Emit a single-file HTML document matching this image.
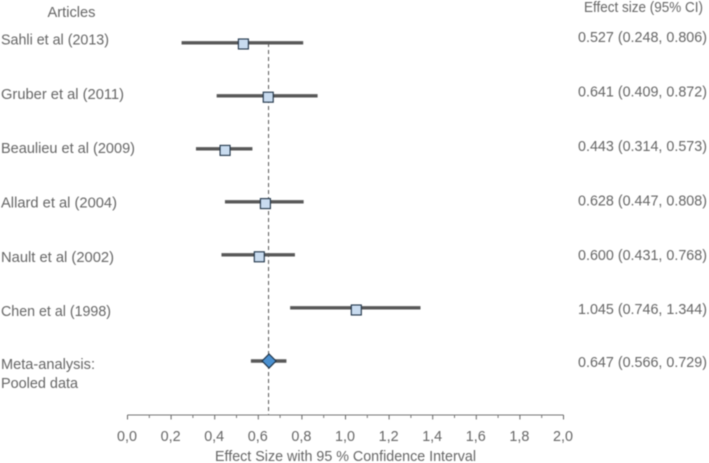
<!DOCTYPE html>
<html>
<head>
<meta charset="utf-8">
<style>
html,body{margin:0;padding:0;background:#fff;width:709px;height:463px;overflow:hidden}
svg{display:block;filter:blur(0.45px)}
text{font-family:"Liberation Sans",sans-serif;font-size:14.5px;fill:#666}
</style>
</head>
<body>
<svg id="chart" width="709" height="463" viewBox="0 0 709 463" xmlns="http://www.w3.org/2000/svg"></svg>
<script>
const studies = ["Sahli et al (2013)", "Gruber et al (2011)", "Beaulieu et al (2009)", "Allard et al (2004)", "Nault et al (2002)", "Chen et al (1998)"];
const effects = [0.527, 0.641, 0.443, 0.628, 0.600, 1.045];
const lowers = [0.248, 0.409, 0.314, 0.447, 0.431, 0.746];
const uppers = [0.806, 0.872, 0.573, 0.808, 0.768, 1.344];
const pooledEffect = [0.647];
const pooledLower = [0.566];
const pooledUpper = [0.729];
const tickLabels = ["0,0", "0,2", "0,4", "0,6", "0,8", "1,0", "1,2", "1,4", "1,6", "1,8", "2,0"];
const tickValues = [0, 0.2, 0.4, 0.6, 0.8, 1.0, 1.2, 1.4, 1.6, 1.8, 2.0];
const minorTickValues = [0.1, 0.3, 0.5, 0.7, 0.9, 1.1, 1.3, 1.5, 1.7, 1.9];

const svg = document.getElementById('chart');
const NS = 'http://www.w3.org/2000/svg';
const xScale = v => 127.5 + v * 218;
const barY = i => 42.8 + i * 53;
const boxY = i => 44 + i * 53.2;
const labelY = i => 44.6 + i * 54.3;
const valueY = i => 42.2 + i * 54.4;
const axisY = 415;
const pooledY = 361;

function mk(tag, attrs, parent) {
  const el = document.createElementNS(NS, tag);
  for (const k in attrs) el.setAttribute(k, attrs[k]);
  (parent || svg).appendChild(el);
  return el;
}
function txt(content, x, y, len, anchor) {
  const el = mk('text', {x: x, y: y, 'text-anchor': anchor || 'start'});
  el.textContent = content;
  if (len) {
    el.setAttribute('textLength', len);
    el.setAttribute('lengthAdjust', 'spacingAndGlyphs');
  }
  return el;
}
function fmt(e, l, u) {
  return e.toFixed(3) + ' (' + l.toFixed(3) + ', ' + u.toFixed(3) + ')';
}

// Reference line
const refLine = mk('line', {x1: xScale(pooledEffect[0]), x2: xScale(pooledEffect[0]), y1: 43, y2: axisY, stroke: '#555', 'stroke-width': 1, 'stroke-dasharray': '4 3'});



// Headers
const hdrA = txt('Articles', 47.5, 17, 48);


const hdrE = txt('Effect size (95% CI)', 584, 12, 119);



// Study rows
const labelWidths = [108, 123, 134, 116, 113, 110];
studies.forEach((name, i) => {
  const label = txt(name, 1, labelY(i), labelWidths[i]);
  
  

  const ci = mk('line', {x1: xScale(lowers[i]), x2: xScale(uppers[i]), y1: barY(i), y2: barY(i), stroke: '#595959', 'stroke-width': 3.4});
  
  

  const box = mk('rect', {x: xScale(effects[i]) - 4, y: boxY(i) - 5, width: 10, height: 10, fill: '#c9dcf0', stroke: '#1f3347', 'stroke-width': 1.1});
  
  

  const val = txt(fmt(effects[i], lowers[i], uppers[i]), 578, valueY(i), 129);
  
  
});

// Pooled row
const pl1 = txt('Meta-analysis:', 1, 369, 94);


const pl2 = txt('Pooled data', 1, 388, 77);



const pooledCi = mk('line', {x1: xScale(pooledLower[0]), x2: xScale(pooledUpper[0]), y1: pooledY, y2: pooledY, stroke: '#595959', 'stroke-width': 3.4});



const px = xScale(pooledEffect[0]) + 0.5;
const diamond = mk('polygon', {points: [[px, pooledY - 7], [px + 7, pooledY], [px, pooledY + 7], [px - 7, pooledY]].map(p => p.join(',')).join(' '), fill: '#4a90d0', stroke: '#1f3347', 'stroke-width': 1.2});



const pv = txt(fmt(pooledEffect[0], pooledLower[0], pooledUpper[0]), 578, 367, 129);



// Axis
const axis = mk('line', {x1: xScale(0), x2: xScale(2), y1: axisY, y2: axisY, stroke: '#777', 'stroke-width': 1});



tickValues.forEach((v, i) => {
  const t = mk('line', {x1: xScale(v), x2: xScale(v), y1: axisY, y2: axisY + 4.5, stroke: '#666', 'stroke-width': 1});
  
  
  const l = txt(tickLabels[i], xScale(v) - 0.5, 441, 20, 'middle');
  
  
});
minorTickValues.forEach(v => {
  const t = mk('line', {x1: xScale(v), x2: xScale(v), y1: axisY, y2: axisY + 3, stroke: '#777', 'stroke-width': 1});
  
  
});

const axisTitle = txt('Effect Size with 95 % Confidence Interval', 215, 461, 261);


</script>
</body>
</html>
